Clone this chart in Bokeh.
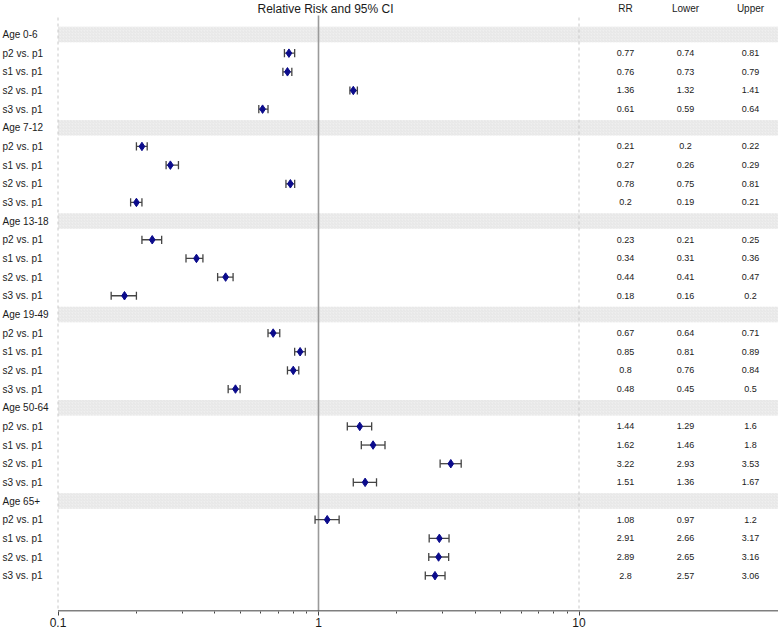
from bokeh.plotting import figure
from bokeh.models import ColumnDataSource, Range1d, FixedTicker
from bokeh.core.properties import value
from bokeh.embed import file_html
from bokeh.resources import INLINE

# ---------------- data ----------------
title_text = "Relative Risk and 95% CI"
groups = ["Age 0-6", "Age 7-12", "Age 13-18", "Age 19-49", "Age 50-64", "Age 65+"]
comparisons = ["p2 vs. p1", "s1 vs. p1", "s2 vs. p1", "s3 vs. p1"]
rr = [0.77, 0.76, 1.36, 0.61,
      0.21, 0.27, 0.78, 0.2,
      0.23, 0.34, 0.44, 0.18,
      0.67, 0.85, 0.8, 0.48,
      1.44, 1.62, 3.22, 1.51,
      1.08, 2.91, 2.89, 2.8]
lower = [0.74, 0.73, 1.32, 0.59,
         0.2, 0.26, 0.75, 0.19,
         0.21, 0.31, 0.41, 0.16,
         0.64, 0.81, 0.76, 0.45,
         1.29, 1.46, 2.93, 1.36,
         0.97, 2.66, 2.65, 2.57]
upper = [0.81, 0.79, 1.41, 0.64,
         0.22, 0.29, 0.81, 0.21,
         0.25, 0.36, 0.47, 0.2,
         0.71, 0.89, 0.84, 0.5,
         1.6, 1.8, 3.53, 1.67,
         1.2, 3.17, 3.16, 3.06]
column_headers = ["RR", "Lower", "Upper"]
tick_values = [0.1, 1, 10]
tick_labels = ["0.1", "1", "10"]
minor_tick_values = [0.2, 0.3, 0.4, 0.5, 0.6, 0.7, 0.8, 0.9, 2, 3, 4, 5, 6, 7, 8, 9]

# ---------------- layout helpers ----------------
W, H = 778, 631
X0_PX, DEC_PX = 57.5, 260.5          # canvas x of 0.1 and pixels per decade


def px2x(cx):
    return 10 ** (-1 + (cx - X0_PX) / DEC_PX)


x_start, x_end = px2x(0), px2x(W)
Y_TOP, Y_BOT = -1.822, 30.92

# rows
header_rows, header_text = [], []
item_rows, item_text = [], []
row = 0
for gi, g in enumerate(groups):
    header_rows.append(row)
    header_text.append(g)
    row += 1
    for c in comparisons:
        item_rows.append(row)
        item_text.append(c)
        row += 1

p = figure(width=W, height=H, x_axis_type="log",
           x_range=Range1d(x_start, x_end), y_range=Range1d(Y_BOT, Y_TOP),
           output_backend="svg", toolbar_location=None,
           min_border_left=0, min_border_right=0, min_border_top=0,
           min_border_bottom=20)
p.outline_line_color = None
p.xgrid.visible = False
p.ygrid.visible = False
p.yaxis.visible = False
p.background_fill_color = "white"

FONT = value("Liberation Sans")
TXT = "#1a1a1a"

# header bands
band_src = ColumnDataSource(dict(y=header_rows, left=[0.1] * len(header_rows),
                                 right=[x_end] * len(header_rows)))
p.hbar(y="y", left="left", right="right", height=0.83, source=band_src,
       fill_color="#efefef", line_color=None,
       hatch_pattern="right_diagonal_line", hatch_color="#e6e6e6",
       hatch_scale=3, hatch_weight=1)

# reference lines
p.segment(x0=[0.1, 10], y0=[-0.91, -0.91], x1=[0.1, 10], y1=[Y_BOT, Y_BOT],
          line_color="#c8c8c8", line_width=1, line_dash="3 3")
p.segment(x0=[1], y0=[-1.02], x1=[1], y1=[Y_BOT], line_color="#9a9a9a", line_width=1.6)

# axis line (starts at 0.1)
p.segment(x0=[0.1], y0=[Y_BOT - 0.03], x1=[x_end], y1=[Y_BOT - 0.03],
          line_color="#555555", line_width=1.5)

# error bars
src = ColumnDataSource(dict(y=item_rows, rr=rr, lo=lower, hi=upper,
                            ytop=[r - 0.22 for r in item_rows],
                            ybot=[r + 0.22 for r in item_rows],
                            rr_t=[f"{v:g}" for v in rr],
                            lo_t=[f"{v:g}" for v in lower],
                            hi_t=[f"{v:g}" for v in upper],
                            lab=item_text))
p.segment(x0="lo", y0="y", x1="hi", y1="y", source=src, line_color="#444444", line_width=1.3)
p.segment(x0="lo", y0="ytop", x1="lo", y1="ybot", source=src, line_color="#444444", line_width=1.3)
p.segment(x0="hi", y0="ytop", x1="hi", y1="ybot", source=src, line_color="#444444", line_width=1.3)
p.scatter(x="rr", y="y", source=src, marker="diamond", size=8.5,
          fill_color="#0b0b8c", line_color="#0b0b8c")

# row labels
lab_x = px2x(2)
p.text(x=[lab_x] * len(header_rows), y=header_rows, text=header_text,
       text_font=FONT, text_font_size="10px", text_color=TXT,
       text_align="left", text_baseline="middle")
p.text(x=lab_x, y="y", text="lab", source=src,
       text_font=FONT, text_font_size="10px", text_color=TXT,
       text_align="left", text_baseline="middle")

# table
col_x = [px2x(625), px2x(685), px2x(750)]
for cx, col in zip(col_x, ["rr_t", "lo_t", "hi_t"]):
    p.text(x=cx, y="y", text=col, source=src,
           text_font=FONT, text_font_size="9px", text_color=TXT,
           text_align="center", text_baseline="middle")

HEAD_ROW = -1.39
p.text(x=col_x, y=[HEAD_ROW] * 3, text=column_headers,
       text_font=FONT, text_font_size="10px", text_color=TXT,
       text_align="center", text_baseline="middle")
p.text(x=[px2x(325)], y=[HEAD_ROW], text=[title_text],
       text_font=FONT, text_font_size="12px", text_color=TXT,
       text_align="center", text_baseline="middle")

# x axis
ax = p.xaxis[0]
ax.ticker = FixedTicker(ticks=tick_values, minor_ticks=minor_tick_values)
ax.major_label_overrides = {v: t for v, t in zip(tick_values, tick_labels)}
ax.axis_line_color = None
ax.major_tick_in = 0
ax.major_tick_out = 4
ax.minor_tick_in = 0
ax.minor_tick_out = 2
ax.major_tick_line_color = "#444444"
ax.minor_tick_line_color = "#444444"
ax.major_label_standoff = 2
ax.major_label_text_font = "Liberation Sans"
ax.major_label_text_font_size = "12px"
ax.major_label_text_color = TXT

open("out.html", "w").write(file_html(p, INLINE))
